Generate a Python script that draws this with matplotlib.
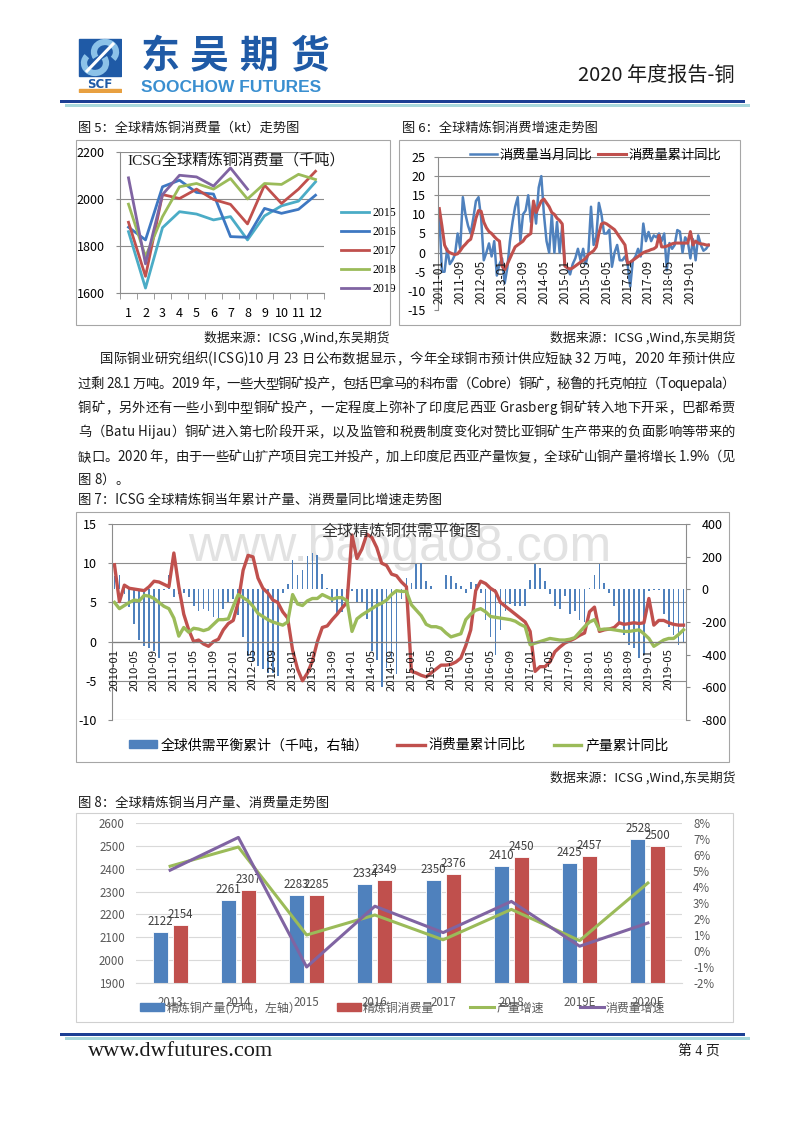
import numpy as np
import pandas as pd
import matplotlib
matplotlib.use('Agg')
import matplotlib.pyplot as plt
import matplotlib.transforms as mtransforms
from matplotlib import font_manager
from matplotlib.font_manager import FontProperties
from matplotlib.ft2font import FT2Font
from matplotlib.patches import Rectangle, Patch, Arc
from matplotlib.lines import Line2D
from matplotlib.ticker import FuncFormatter

# ---------------- data ----------------
# fig 5: monthly refined copper consumption (kt)
months5 = list(range(1, 13))
cons_2015 = [1861, 1621, 1878, 1946, 1936, 1911, 1925, 1826, 1928, 1971, 1991, 2073]
cons_2016 = [1880, 1826, 2052, 2080, 2028, 2021, 1840, 1837, 1960, 1939, 1956, 2016]
cons_2017 = [1901, 1671, 2019, 2002, 2042, 1998, 1977, 1894, 2059, 1981, 2042, 2118]
cons_2018 = [1978, 1755, 1925, 2052, 2066, 2042, 2087, 2000, 2066, 2062, 2105, 2083]
cons_2019 = [2090, 1724, 2019, 2101, 2094, 2055, 2132, 2042]

# fig 6: consumption growth, 2011-01 .. 2019-08
mom6 = [10, -5, -5, 1, -3, -2, -0.5, 5, 1, 14.5, 10, 7,
        5, 9, 13.5, 14.5, 9, -2, 0, 2.4, -1, 3, -6, -3,
        -1.5, -8, -4, 3, 8, 12, 14.5, 3, 10, 11, 15, 8,
        13, 7.6, 17, 20, 10, 3, 0, 10, 0, 8, 0, 7,
        -3.3, -4, -5.7, -3, -1.5, 1, -2, 1, -3, 0, 12, 2,
        4, 13, 10, 5, 5, 6, -3.7, 0, 2, -2, -2, -1,
        -3, -8.9, -2, -1, 1, -1, 7.6, 3, 5.4, 3, 4.5, 4,
        5, 3, 5, -4.6, 2.5, 1, 2, 5.9, 5.5, 0, 4, 3,
        -1.5, 3.5, -2, 4.5, 2, 0.5, 1, 2]
ytd6 = [11.5, 7, 2, 0.5, 0, -0.3, -0.5, -0.3, 0.5, 1.5, 2.2, 3,
        3.5, 6, 9, 11, 10.8, 8, 6.5, 5.5, 5, 4.2, 3.5, 3,
        -3.5, -4.5, -3, -1.5, 0, 1.5, 2, 2.5, 3, 4, 4.5, 5,
        13.5, 10.5, 12, 13.5, 14, 13, 12, 10.5, 10, 9, 8.4, 7.5,
        -3.5, -4, -4.3, -4, -3.5, -3, -2.5, -2, -1.5, -0.5, 0, 0.5,
        1.5, 5, 7.5, 7.8, 7.5, 7, 6.5, 6, 5, 4, 3, 2,
        -2.8, -2.5, -2, -1.5, -1, -0.5, 0, 0.3, 0.5, 0.8, 1, 1.5,
        4.5, 1.5, 1.5, 1.7, 2, 2.3, 2.5, 2.5, 2.5, 2.5, 2.5, 2.5,
        5.5, 2, 3, 2.5, 2.3, 2.2, 2, 2]
months6 = pd.period_range('2011-01', periods=len(mom6), freq='M').strftime('%Y-%m')

# fig 7: 2010-01 .. 2019-08
bal7 = [80, 90, -30, -110, -210, -310, -350, -360, -380, -420, -5, 85,
        -45, -30, -25, -50, -100, -130, -120, -130, -170, -180, -120, -80,
        -60, -160, -290, -410, -440, -470, -490, -510, -510, -530, -20, 30,
        180, 85, 120, 205, 225, 210, 95, 10, -80, -150, -140, -60,
        -10, -80, -80, -180, -380, -430, -600, -480, -420, -520, -60, 70,
        40, 155, 160, 50, 20, 0, 0, 90, 80, 40, 20, -20,
        45, 35, -20, -190, -290, -400, -250, -130, -90, -100, -100, -100,
        55, 155, 130, 50, -30, -100, -120, -40, -150, -130, -190, -200,
        10, 90, 155, 40, -20, -100, -200, -280, -340, -360, -420, -400,
        -10, -5, -5, -150, -230, -280, -340, -330]
red7 = [9.8, 5.1, 7.2, 6.8, 6.7, 6.6, 6.5, 7.0, 7.7, 7.6, 7.3, 7.0,
        11.3, 7.0, 3.5, 1.5, 0.0, 0.2, -0.3, -0.6, 0.0, 0.3, 1.5, 2.3,
        2.7, 5.0, 9.1, 11.0, 10.8, 8.1, 6.8, 6.2, 5.3, 5.0, 3.8, 3.0,
        -1.1, -3.5, -5.0, -4.0, -2.5, 0.0, 1.8, 2.0, 2.8, 3.5, 4.3, 5.0,
        13.6, 10.6, 11.8, 13.7, 13.3, 12.0, 10.0, 9.7, 8.6, 8.4, 7.6, 7.0,
        -3.8, -4.0, -4.3, -4.5, -4.0, -3.5, -3.0, -3.0, -2.9, -2.6, -2.1, -0.5,
        1.5, 6.5, 7.7, 7.4, 6.8, 6.4, 5.0, 4.5, 4.0, 3.5, 3.0, 2.5,
        1.3, -3.8, -3.2, -3.2, -2.6, -1.3, -0.7, -0.2, 0.1, 0.4, 0.8, 1.1,
        3.8, 4.4, 1.3, 1.5, 1.6, 1.8, 2.4, 2.2, 2.3, 2.4, 2.3, 2.4,
        5.5, 2.1, 2.7, 2.7, 2.4, 2.2, 2.1, 2.1]
green7 = [5.0, 4.2, 4.6, 5.0, 5.3, 5.2, 5.9, 5.8, 5.5, 5.0, 4.5, 4.2,
          3.0, 0.7, 1.8, 1.2, 1.7, 1.6, 1.4, 1.6, 2.2, 2.8, 2.8, 2.9,
          4.5, 6.0, 5.6, 5.2, 4.5, 3.6, 3.2, 2.8, 2.5, 2.3, 2.1, 2.5,
          6.0, 4.8, 4.6, 5.2, 5.5, 5.5, 6.0, 5.7, 5.4, 5.6, 5.6, 5.2,
          1.3, 2.9, 3.4, 3.8, 4.2, 4.6, 4.9, 5.3, 6.0, 6.5, 6.4, 6.4,
          4.7, 4.0, 3.3, 2.2, 1.9, 1.9, 1.7, 1.1, 0.6, 0.8, 1.0, 2.8,
          3.5, 4.0, 4.2, 3.8, 3.2, 3.1, 3.0, 2.9, 2.8, 2.6, 2.2, 1.9,
          -0.4, -0.2, 0.0, 0.2, 0.4, 0.3, 0.2, 0.2, 0.3, 0.5, 1.2, 1.9,
          2.5, 2.8, 1.5, 1.6, 1.6, 1.5, 1.4, 1.3, 1.3, 1.4, 1.5, 1.0,
          0.4, -0.6, -0.2, 0.2, 0.4, 0.4, 0.9, 1.5]
months7 = pd.period_range('2010-01', periods=len(bal7), freq='M').strftime('%Y-%m')

# fig 8: yearly production / consumption
years8 = ['2013', '2014', '2015', '2016', '2017', '2018', '2019E', '2020E']
prod8 = [2122, 2261, 2283, 2334, 2350, 2410, 2425, 2528]
cons8 = [2154, 2307, 2285, 2349, 2376, 2450, 2457, 2500]
prod_g8 = [5.3, 6.5, 1.0, 2.25, 0.7, 2.6, 0.65, 4.25]
cons_g8 = [5.05, 7.1, -1.0, 2.8, 1.15, 3.1, 0.3, 1.75]

para = [
    '国际铜业研究组织(ICSG)10 月 23 日公布数据显示，今年全球铜市预计供应短缺 32 万吨，2020 年预计供应',
    '过剩 28.1 万吨。2019 年，一些大型铜矿投产，包括巴拿马的科布雷（Cobre）铜矿，秘鲁的托克帕拉（Toquepala）',
    '铜矿，另外还有一些小到中型铜矿投产，一定程度上弥补了印度尼西亚 Grasberg 铜矿转入地下开采，巴都希贾',
    '乌（Batu Hijau）铜矿进入第七阶段开采，以及监管和税费制度变化对赞比亚铜矿生产带来的负面影响等带来的',
    '缺口。2020 年，由于一些矿山扩产项目完工并投产，加上印度尼西亚产量恢复，全球矿山铜产量将增长 1.9%（见',
    '图 8）。',
]

# ---------------- style ----------------
CJK = ['Noto Sans CJK SC', 'DejaVu Sans']
SERIF = ['Liberation Serif', 'Noto Sans CJK SC']
plt.rcParams['font.family'] = CJK
plt.rcParams['axes.unicode_minus'] = False
BLUE, RED, GREEN, PURPLE, CYAN = '#4f81bd', '#c0504d', '#9bbb59', '#8064a2', '#4bacc6'
GRID = '#8c8c8c'
TXT = '#1a1a1a'

W, H = 800, 1132
fig = plt.figure(figsize=(W / 100, H / 100), dpi=100)


def rect(x0, y0, x1, y1):
    return [x0 / W, 1 - y1 / H, (x1 - x0) / W, (y1 - y0) / H]


def ftext(x, y, s, **kw):
    kw.setdefault('va', 'center')
    kw.setdefault('color', TXT)
    return fig.text(x / W, 1 - y / H, s, **kw)


def band(x0, y0, x1, y1, color):
    fig.add_artist(Rectangle((x0 / W, 1 - y1 / H), (x1 - x0) / W, (y1 - y0) / H,
                             transform=fig.transFigure, facecolor=color, edgecolor='none'))


def frame(x0, y0, x1, y1, color='#a6a6a6'):
    fig.add_artist(Rectangle((x0 / W, 1 - y1 / H), (x1 - x0) / W, (y1 - y0) / H,
                             transform=fig.transFigure, fill=False, edgecolor=color, lw=0.8))


ft_body = FT2Font(font_manager.findfont(FontProperties(family='Noto Sans CJK SC')))


def justify(s, x0, y, size, x1=None):
    # place glyph by glyph so the line fills x0..x1 like the justified source text
    ft_body.set_size(size, 100)
    adv = [ft_body.load_char(ord(c)).linearHoriAdvance / 65536 for c in s]
    gap = 0 if x1 is None else (x1 - x0 - sum(adv)) / (len(s) - 1)
    x = x0
    for c, a in zip(s, adv):
        if c != ' ':
            ftext(x, y, c, fontsize=size, ha='left', va='baseline')
        x += a + gap


def drop_labels(ax, pos, labels, size):
    tr = mtransforms.offset_copy(ax.transData, fig=fig, y=-7, units='dots')
    for p, s in zip(pos, labels):
        ax.text(p, 0, s, transform=tr, rotation=90, ha='center', va='top',
                fontsize=size, color=TXT)


# ---------------- header ----------------
lg = fig.add_axes(rect(78, 38, 122, 93))
lg.set_xlim(0, 44)
lg.set_ylim(55, 0)
lg.axis('off')
lg.add_patch(Rectangle((1, 1), 42, 37, color='#1f5aa6'))
lg.add_patch(Arc((27, 14), 22, 20, theta1=150, theta2=400, color='#8cc2e8', lw=4.5))
lg.add_patch(Arc((17, 25), 22, 20, theta1=-30, theta2=220, color='#8cc2e8', lw=4.5))
lg.plot([9, 35], [33, 6], color='white', lw=2.2)
lg.text(22, 46, 'SCF', ha='center', va='center', fontsize=8.5, weight='bold',
        color='#1f5aa6', family='DejaVu Sans')
lg.add_patch(Rectangle((1, 51), 42, 3, color='#e8a040'))

for cx, ch in zip([160, 209, 259, 310], '东吴期货'):
    ftext(cx, 56, ch, ha='center', fontsize=28, weight='bold', color='#1f5aa6')
ftext(141, 88, 'SOOCHOW FUTURES', ha='left', fontsize=12.5, weight='bold',
      color='#3a8fd0', family='Liberation Sans')
ftext(735, 75, '2020 年度报告-铜', ha='right', fontsize=14.5)
band(60, 100, 745, 103, '#1c3f94')
band(65, 104, 750, 107, '#a9d9dc')

# ---------------- titles & text ----------------
ftext(78, 128, '图 5：全球精炼铜消费量（kt）走势图', ha='left', fontsize=9.5)
ftext(402, 128, '图 6：全球精炼铜消费增速走势图', ha='left', fontsize=9.5)
ftext(390, 338, '数据来源：ICSG ,Wind,东吴期货', ha='right', fontsize=9.3)
ftext(735, 338, '数据来源：ICSG ,Wind,东吴期货', ha='right', fontsize=9.3)

line_y = [358, 383, 407, 431, 456, 479]
for k, (s, y) in enumerate(zip(para, line_y)):
    x0 = 100 if k == 0 else 78
    x1 = None if k == len(para) - 1 else 735
    justify(s, x0, y + 5, 9.6, x1)

ftext(78, 500, '图 7：ICSG 全球精炼铜当年累计产量、消费量同比增速走势图', ha='left', fontsize=9.6)
ftext(735, 778, '数据来源：ICSG ,Wind,东吴期货', ha='right', fontsize=9.3)
ftext(78, 803, '图 8：全球精炼铜当月产量、消费量走势图', ha='left', fontsize=9.6)

frame(76, 140, 390, 325)
frame(399, 140, 740, 325)
frame(76, 512, 729, 762)
frame(76, 813, 733, 1022, '#d0d0d0')

# ---------------- fig 5 ----------------
ax5 = fig.add_axes(rect(120, 152, 324, 293))
for vals, name, col in zip([cons_2015, cons_2016, cons_2017, cons_2018, cons_2019],
                           ['2015', '2016', '2017', '2018', '2019'],
                           [CYAN, '#3e78c2', RED, GREEN, PURPLE]):
    ax5.plot(months5[:len(vals)], vals, color=col, lw=2.0, label=name)
ax5.set_xlim(0.5, 12.5)
ax5.set_ylim(1600, 2200)
ax5.set_yticks([1600, 1800, 2000, 2200])
ax5.set_xticks(months5)
ax5.set_xticks(np.arange(0.5, 13, 1), minor=True)
ax5.yaxis.grid(True, color=GRID, lw=0.8)
ax5.set_axisbelow(True)
for sp in ['top', 'right']:
    ax5.spines[sp].set_visible(False)
for sp in ['left', 'bottom']:
    ax5.spines[sp].set_color(GRID)
ax5.tick_params(axis='x', which='major', length=0, pad=10, labelsize=9)
ax5.tick_params(axis='x', which='minor', length=4, color=GRID)
ax5.tick_params(axis='y', length=3, color=GRID, pad=8, labelsize=9)
ftext(127, 160, 'ICSG全球精炼铜消费量（千吨）', ha='left', fontsize=11, family=SERIF)
ax5.legend(loc='upper left', bbox_to_anchor=(341 / W, 1 - 207 / H), bbox_transform=fig.transFigure,
           frameon=False, prop=FontProperties(family=SERIF, size=8.5), handlelength=2.4,
           handletextpad=0.3, labelspacing=0.6, borderpad=0, borderaxespad=0)

# ---------------- fig 6 ----------------
ax6 = fig.add_axes(rect(438, 157, 710, 310))
x6 = np.arange(len(mom6))
ax6.plot(x6, mom6, color=BLUE, lw=1.8, label='消费量当月同比')
ax6.plot(x6, ytd6, color=RED, lw=2.2, label='消费量累计同比')
ax6.set_xlim(-0.5, len(x6) - 0.5)
ax6.set_ylim(-15, 25)
ax6.set_yticks(range(-15, 26, 5))
for v in range(5, 26, 5):
    ax6.axhline(v, color=GRID, lw=0.8, zorder=0)
ax6.axhline(0, color='#7f7f7f', lw=0.9, zorder=1)
ax6.set_xticks([])
for sp in ['top', 'right', 'bottom']:
    ax6.spines[sp].set_visible(False)
ax6.spines['left'].set_color(GRID)
ax6.tick_params(axis='y', length=3, color=GRID, pad=6, labelsize=9)
drop_labels(ax6, x6[::8], months6[::8], 8.6)
ax6.legend(ncol=2, loc='upper right', bbox_to_anchor=(721 / W, 1 - 149 / H), bbox_transform=fig.transFigure,
           frameon=False, fontsize=9.5, handlelength=2.1, handletextpad=0.2, columnspacing=0.4,
           borderpad=0, borderaxespad=0)

# ---------------- fig 7 ----------------
ftext(400, 548, 'www.baogao8.com', ha='center', fontsize=36, color='#e2e2e2',
      family='Liberation Sans', zorder=-1)
axb = fig.add_axes(rect(112, 524, 686, 720))
axl = axb.twinx()
axb.set_facecolor('none')
x7 = np.arange(len(bal7))
axb.bar(x7, bal7, width=0.35, color=BLUE, zorder=2)
axb.set_ylim(-800, 400)
axb.set_yticks(range(-800, 401, 200))
axl.plot(x7, red7, color=RED, lw=2.4)
axl.plot(x7, green7, color=GREEN, lw=2.4)
axl.set_ylim(-10, 15)
axl.set_yticks(range(-10, 16, 5))
axb.set_xlim(-0.5, len(x7) - 0.5)
axb.yaxis.tick_right()
axl.yaxis.tick_left()
trans = mtransforms.blended_transform_factory(axb.transAxes, axl.transData)
for v in range(-10, 16, 5):
    axb.plot([0, 1], [v, v], transform=trans, color=GRID, lw=0.8, zorder=0)
axl.axhline(0, color='#7f7f7f', lw=0.9)
axb.set_xticks([])
for a in (axb, axl):
    for sp in a.spines.values():
        sp.set_visible(False)
axl.spines['left'].set_visible(True)
axl.spines['right'].set_visible(True)
axl.spines['left'].set_color(GRID)
axl.spines['right'].set_color(GRID)
axb.tick_params(axis='y', length=3, color=GRID, pad=8, labelsize=9)
axl.tick_params(axis='y', length=3, color=GRID, pad=8, labelsize=9)
drop_labels(axl, x7[::4], months7[::4], 8.2)
ftext(402, 531, '全球精炼铜供需平衡图', ha='center', fontsize=11.5, color='#333333')
h7 = [Patch(color=BLUE), Line2D([], [], color=RED, lw=2.4), Line2D([], [], color=GREEN, lw=2.4)]
fig.legend(h7, ['全球供需平衡累计（千吨，右轴）', '消费量累计同比', '产量累计同比'], ncol=3,
           loc='center left', bbox_to_anchor=(129 / W, 1 - 745 / H), frameon=False, fontsize=10,
           handlelength=2.0, handleheight=0.5, handletextpad=0.3, columnspacing=2.0,
           borderpad=0, borderaxespad=0)

# ---------------- fig 8 ----------------
ax8 = fig.add_axes(rect(136, 823, 682, 983))
x8 = np.arange(len(years8))
bw = 0.22
for off, vals, col in [(-0.145, prod8, BLUE), (0.145, cons8, RED)]:
    bars = ax8.bar(x8 + off, vals, width=bw, color=col, edgecolor='white', lw=0.6, zorder=2)
    for b, v in zip(bars, vals):
        ax8.annotate(str(v), (b.get_x() + bw / 2, v), xytext=(0, 3), textcoords='offset points',
                     ha='center', va='bottom', fontsize=8.3, color='#404040')
ax8.set_ylim(1900, 2600)
ax8.set_yticks(range(1900, 2601, 100))
ax8.set_xlim(-0.5, len(x8) - 0.5)
ax8.set_xticks(x8)
ax8.set_xticklabels(years8)
ax8.yaxis.grid(True, color='#d9d9d9', lw=0.8)
ax8.set_axisbelow(True)
ax8r = ax8.twinx()
ax8r.plot(x8, prod_g8, color=GREEN, lw=2.2)
ax8r.plot(x8, cons_g8, color=PURPLE, lw=2.2)
ax8r.set_ylim(-2, 8)
ax8r.set_yticks(range(-2, 9))
ax8r.yaxis.set_major_formatter(FuncFormatter(lambda v, p: f'{v:.0f}%'))
for a in (ax8, ax8r):
    for sp in a.spines.values():
        sp.set_visible(False)
    a.tick_params(length=0, labelsize=8.3, labelcolor='#595959', pad=8)
ax8.spines['bottom'].set_visible(True)
ax8.spines['bottom'].set_color('#d9d9d9')
ax8.tick_params(axis='x', pad=9)
h8 = [Patch(color=BLUE), Patch(color=RED), Line2D([], [], color=GREEN, lw=2.2),
      Line2D([], [], color=PURPLE, lw=2.2)]
fig.legend(h8, ['精炼铜产量(万吨，左轴）', '精炼铜消费量', '产量增速', '消费量增速'], ncol=4,
           loc='center left', bbox_to_anchor=(140 / W, 1 - 1008 / H), frameon=False, fontsize=8.6,
           labelcolor='#595959', handlelength=2.0, handleheight=0.6, handletextpad=0.2,
           columnspacing=3.0, borderpad=0, borderaxespad=0)

# ---------------- footer ----------------
band(60, 1033, 745, 1036, '#1c3f94')
band(65, 1037, 750, 1040, '#a9d9dc')
ftext(88, 1051, 'www.dwfutures.com', ha='left', fontsize=16, family='Liberation Serif')
ftext(720, 1051, '第 4 页', ha='right', fontsize=10, family=SERIF)

fig.savefig('out.png', dpi=100)
